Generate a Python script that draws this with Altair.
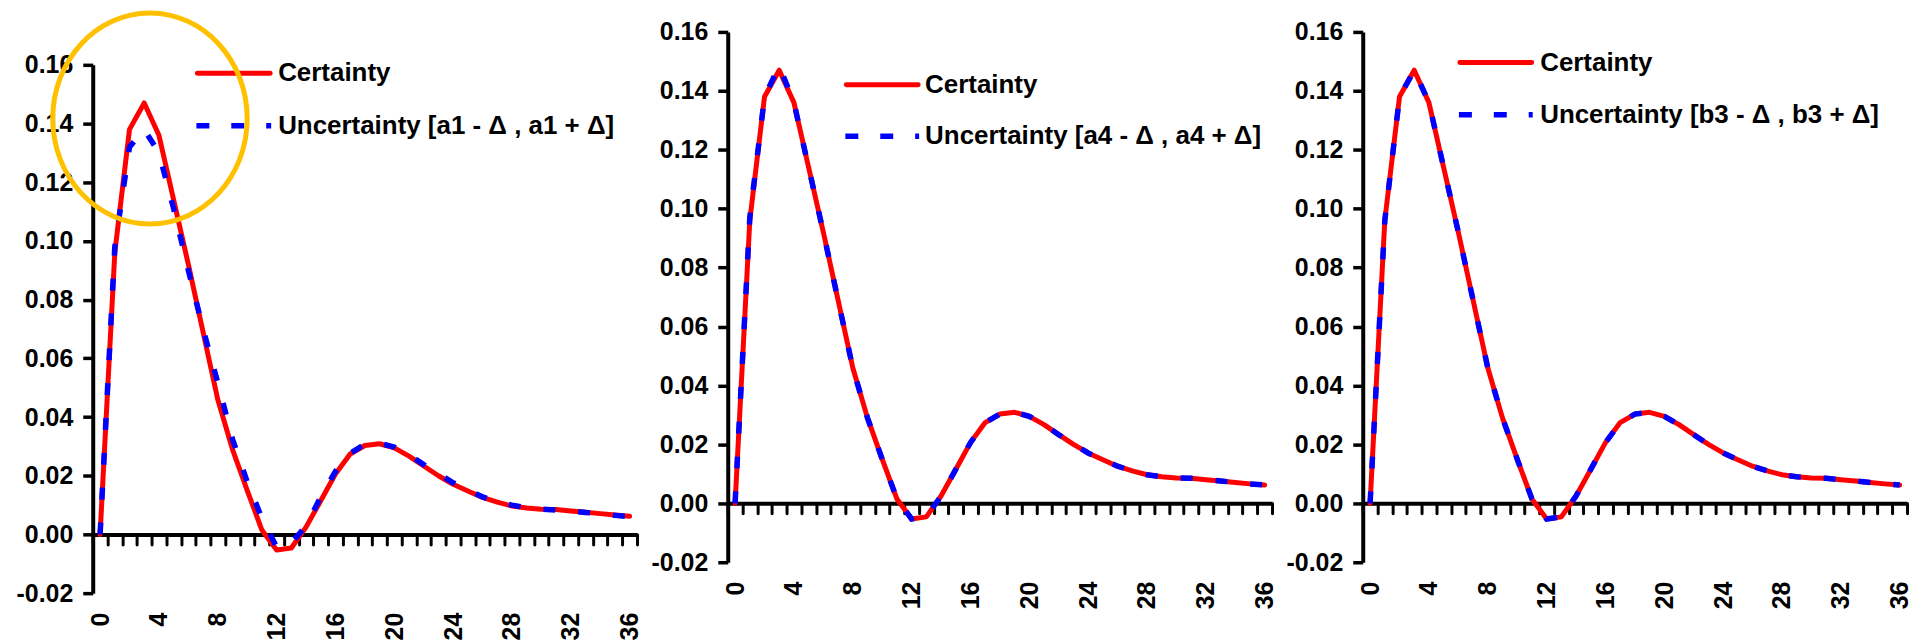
import altair as alt
import pandas as pd

# ---------------- data ----------------
steps = list(range(37))

certainty = [0.0, 0.096, 0.138, 0.147, 0.136, 0.114, 0.092, 0.069, 0.046, 0.029,
             0.015, 0.0015, -0.0053, -0.0046, 0.0025, 0.0115, 0.0206, 0.0274, 0.0303, 0.0309,
             0.0295, 0.0267, 0.0233, 0.0200, 0.0171, 0.0148, 0.0126, 0.0110, 0.0097, 0.0090,
             0.0086, 0.0085, 0.0080, 0.0076, 0.0071, 0.0066, 0.0062]

uncert_a1 = [0.0, 0.098, 0.132, 0.138, 0.130, 0.111, 0.090, 0.070, 0.0517, 0.0325,
             0.0180, 0.0055, -0.0043, -0.0030, 0.0030, 0.0128, 0.0215, 0.0276, 0.0308, 0.0311,
             0.0298, 0.0272, 0.0238, 0.0207, 0.0176, 0.0150, 0.0128, 0.0111, 0.0100, 0.0091,
             0.0086, 0.0083, 0.0079, 0.0075, 0.0070, 0.0065, 0.0061]

uncert_a4 = [0.0, 0.097, 0.138, 0.1485, 0.136, 0.114, 0.092, 0.069, 0.046, 0.029,
             0.015, 0.0015, -0.0053, -0.0046, 0.0025, 0.0115, 0.0206, 0.0274, 0.0303, 0.0309,
             0.0295, 0.0267, 0.0233, 0.0200, 0.0171, 0.0148, 0.0126, 0.0110, 0.0097, 0.0090,
             0.0086, 0.0085, 0.0080, 0.0076, 0.0071, 0.0066, 0.0062]

uncert_b3 = [0.0, 0.096, 0.138, 0.147, 0.136, 0.114, 0.092, 0.069, 0.046, 0.029,
             0.015, 0.0015, -0.0053, -0.0046, 0.0025, 0.0115, 0.0206, 0.0274, 0.0303, 0.0309,
             0.0295, 0.0267, 0.0233, 0.0200, 0.0171, 0.0148, 0.0126, 0.0110, 0.0097, 0.0090,
             0.0086, 0.0085, 0.0080, 0.0076, 0.0071, 0.0066, 0.0062]

label_certainty = "Certainty"
labels_uncert = ["Uncertainty [a1 - \u0394 , a1 + \u0394]",
                 "Uncertainty [a4 - \u0394 , a4 + \u0394]",
                 "Uncertainty [b3 - \u0394 , b3 + \u0394]"]

x_tick_labels = [0, 4, 8, 12, 16, 20, 24, 28, 32, 36]
y_ticks = [-0.02, 0.0, 0.02, 0.04, 0.06, 0.08, 0.10, 0.12, 0.14, 0.16]
y_domain = [-0.02, 0.16]

# highlight ellipse on panel 1 (data coordinates: step, value)
highlight_x = [3.39]
highlight_y = [0.1417]

# ---------------- styling ----------------
FONT = "Liberation Sans"
RED = "#FF0000"
BLUE = "#0000FF"
GOLD = "#FFC000"
W = 546
DASH = [12, 23]
ELLIPSE = ("M0,-1 C0.509,-1 0.922,-0.552 0.922,0 C0.922,0.552 0.509,1 0,1 "
           "C-0.509,1 -0.922,0.552 -0.922,0 C-0.922,-0.552 -0.509,-1 0,-1 Z")

label_list = ",".join(str(v) for v in x_tick_labels)


def y_enc(field, height, top):
    return alt.Y(field, title=None,
                 scale=alt.Scale(domain=y_domain, range=[height, top], nice=False, zero=False),
                 axis=alt.Axis(values=y_ticks, grid=False, domainWidth=4, tickWidth=3.5,
                               tickSize=10, labelPadding=10, labelFlush=False,
                               labelExpr="datum.value < 0 ? '-' + format(-datum.value, '.2f') : format(datum.value, '.2f')"))


def x_enc(height, top):
    zero_px = top + (height - top) * (y_domain[1] / (y_domain[1] - y_domain[0]))
    off = -(height - zero_px)
    return alt.X("step:O", title=None, sort=None,
                 scale=alt.Scale(type="band", paddingInner=0, paddingOuter=0),
                 axis=alt.Axis(orient="bottom", offset=off, tickBand="extent", grid=False,
                               domainWidth=4, tickWidth=3, tickSize=10, tickCap="round",
                               labelAngle=-90, labelAlign="right", labelBaseline="middle",
                               labelPadding=68, labelOverlap=False, labelFlush=False,
                               labelExpr="indexof([" + label_list + "], datum.value) >= 0 ? datum.label : ''"))


def panel(unc, unc_label, height, top, leg, highlight=False):
    dfc = pd.DataFrame({"step": steps, "value": certainty})
    dfu = pd.DataFrame({"step": steps, "value": unc})
    xe = x_enc(height, top)
    red = alt.Chart(dfc).mark_line(color=RED, strokeWidth=5, strokeCap="round",
                                   strokeJoin="round").encode(x=xe, y=y_enc("value:Q", height, top))
    blue = alt.Chart(dfu).mark_line(color=BLUE, strokeWidth=5.5, strokeDash=DASH,
                                    strokeCap="butt").encode(x=xe, y=y_enc("value:Q", height, top))
    lx0, lx1, ly0, ly1, tx = leg
    legdf1 = pd.DataFrame({"label": [label_certainty]})
    legdf2 = pd.DataFrame({"label": [unc_label]})
    lred = alt.Chart(legdf1).mark_rule(color=RED, strokeWidth=5, strokeCap="round").encode(
        x=alt.value(lx0), x2=alt.value(lx1), y=alt.value(ly0))
    lblue = alt.Chart(legdf2).mark_rule(color=BLUE, strokeWidth=5.5, strokeDash=[13, 22],
                                        strokeCap="butt").encode(
        x=alt.value(lx0 - 1), x2=alt.value(lx1 + 1), y=alt.value(ly1))
    txt_kw = dict(align="left", baseline="middle", font=FONT, fontSize=26,
                  fontWeight="bold", color="black")
    t1 = alt.Chart(legdf1).mark_text(**txt_kw).encode(x=alt.value(tx), y=alt.value(ly0), text="label:N")
    t2 = alt.Chart(legdf2).mark_text(**txt_kw).encode(x=alt.value(tx), y=alt.value(ly1), text="label:N")
    inner = alt.layer(red, blue, lred, lblue, t1, t2).properties(width=W, height=height)
    if not highlight:
        return inner
    hdf = pd.DataFrame({"hx": highlight_x, "hy": highlight_y})
    ell = alt.Chart(hdf).mark_point(shape=ELLIPSE, size=44775, filled=False, color=GOLD,
                                    strokeWidth=5, opacity=1).encode(
        x=alt.X("hx:Q", scale=alt.Scale(domain=[-0.5, 36.5], nice=False, zero=False), axis=None),
        y=y_enc("hy:Q", height, top))
    return alt.layer(inner, ell).resolve_scale(x="independent").properties(width=W, height=height)


p1 = panel(uncert_a1, labels_uncert[0], 563, 33, (105, 178, 41.4, 94.1, 186), highlight=True)
p2 = panel(uncert_a4, labels_uncert[1], 532, 0, (119, 191, 53.1, 104.7, 198))
p3 = panel(uncert_b3, labels_uncert[2], 532, 0, (97.5, 169.5, 30.7, 83.1, 178))

chart = alt.hconcat(p1, p2, p3, spacing=8).properties(
    padding={"left": 8, "right": 0, "top": -6, "bottom": 0}
).configure_view(stroke=None).configure_axis(
    labelFont=FONT, labelFontSize=25, labelFontWeight="bold", labelColor="black",
    domainColor="black", tickColor="black", grid=False
)

chart.save("out.html", embed_options={"renderer": "svg", "actions": False})
